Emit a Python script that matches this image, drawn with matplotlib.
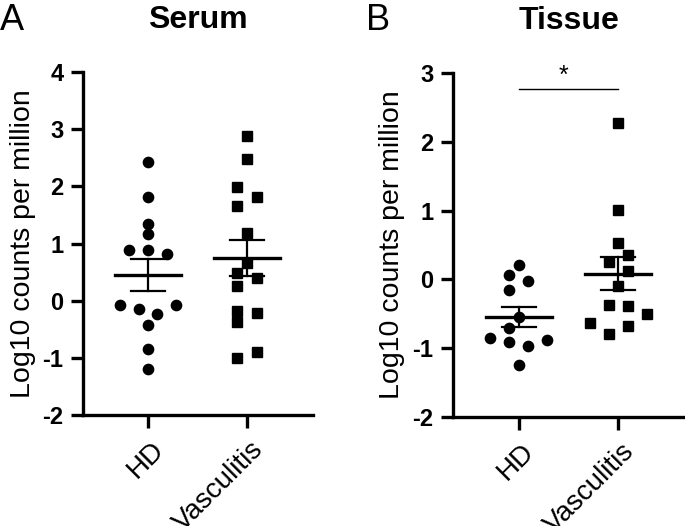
import numpy as np
import matplotlib
matplotlib.use('Agg')
import matplotlib.pyplot as plt
from matplotlib.transforms import ScaledTranslation, blended_transform_factory

plt.rcParams['font.family'] = ['Liberation Sans', 'DejaVu Sans']
plt.rcParams['axes.unicode_minus'] = False

# values (log10 counts per million)
groups = ['HD', 'Vasculitis']
serum_hd = [2.42, 1.82, 1.35, 1.16, 0.89, 0.89, 0.82, -0.08, -0.14, -0.23, -0.08, -0.43, -0.84, -1.19]
serum_vas = [2.88, 2.47, 1.99, 1.82, 1.65, 1.19, 0.66, 0.48, 0.39, 0.26, -0.18, -0.21, -0.38, -0.89, -1.00]
tissue_hd = [0.21, 0.06, -0.02, -0.16, -0.54, -0.71, -0.85, -0.91, -0.97, -0.88, -1.24]
tissue_vas = [2.28, 1.01, 0.53, 0.36, 0.26, 0.12, -0.10, -0.37, -0.38, -0.51, -0.63, -0.67, -0.79]

# horizontal scatter slots (layout only)
serum_hd_slot = [0, 0, 0, 0, -2, 0, 2, -3, -1, 1, 3, 0, 0, 0]
serum_vas_slot = [0, 0, -1.1, 1.1, -1.1, 0, 0, -1.1, 1.1, -1.1, -1.1, 1.1, -1.1, 1.1, -1.1]
tissue_hd_slot = [0, -1, 1, -1, 0, -1, -3, -1, 1, 3, 0]
tissue_vas_slot = [0, 0, 0, 1, -1, 1, 0, -1, 1, 3, -3, 1, -1]
step = 0.094

fig = plt.figure(figsize=(6.85, 5.26), dpi=100)
axA = fig.add_axes([0.1212, 0.2110, 0.3358, 0.6521])
axB = fig.add_axes([0.6613, 0.2072, 0.3387, 0.6540])


def draw_group(ax, x0, vals, slots, marker):
    vals = np.array(vals)
    xs = x0 + np.array(slots) * step
    ax.plot(xs, vals, linestyle='none', marker=marker, ms=7.4, color='black', zorder=3)
    m = vals.mean()
    sem = vals.std(ddof=1) / np.sqrt(len(vals))
    ax.plot([x0 - 0.33, x0 + 0.33], [m, m], color='black', lw=2.4, zorder=4)
    ax.plot([x0, x0], [m - sem, m + sem], color='black', lw=1.6, zorder=4)
    for y in (m - sem, m + sem):
        ax.plot([x0 - 0.17, x0 + 0.17], [y, y], color='black', lw=1.6, zorder=4)


def style(ax, ylim, title, letter, letter_x):
    ax.set_xlim(-0.657, 1.667)
    ax.set_ylim(*ylim)
    ax.set_yticks(range(ylim[0], ylim[1] + 1))
    ax.set_xticks([0, 1])
    ax.tick_params(axis='x', labelbottom=False)
    # rotated group labels, placed like the original software does
    trans = blended_transform_factory(ax.transData, ax.transAxes) + \
        ScaledTranslation(0.12, -0.31, fig.dpi_scale_trans)
    for i, g in enumerate(groups):
        ax.text(i, 0, g, transform=trans, rotation=45, ha='right', va='center',
                rotation_mode='anchor', fontsize=20, clip_on=False)
    for lab in ax.get_yticklabels():
        lab.set_fontweight('bold')
        lab.set_fontsize(17)
    for s in ('top', 'right'):
        ax.spines[s].set_visible(False)
    for s in ('left', 'bottom'):
        ax.spines[s].set_linewidth(2.4)
    ax.tick_params(width=2.4, length=9, pad=5)
    ax.set_ylabel('Log10 counts per million', fontsize=20.5, labelpad=5)
    ax.set_title(title, fontsize=23, fontweight='bold', pad=32)
    fig.text(letter_x, 0.995, letter, fontsize=26, va='top', ha='left')


draw_group(axA, 0, serum_hd, serum_hd_slot, 'o')
draw_group(axA, 1, serum_vas, serum_vas_slot, 's')
draw_group(axB, 0, tissue_hd, tissue_hd_slot, 'o')
draw_group(axB, 1, tissue_vas, tissue_vas_slot, 's')

style(axA, (-2, 4), 'Serum', 'A', 0.0)
style(axB, (-2, 3), 'Tissue', 'B', 0.535)

# significance bar
axB.plot([0, 1], [2.77, 2.77], color='black', lw=1.0, clip_on=False)
axB.text(0.45, 2.78, '*', ha='center', va='bottom', fontsize=18)

fig.savefig('out.png', dpi=100)
